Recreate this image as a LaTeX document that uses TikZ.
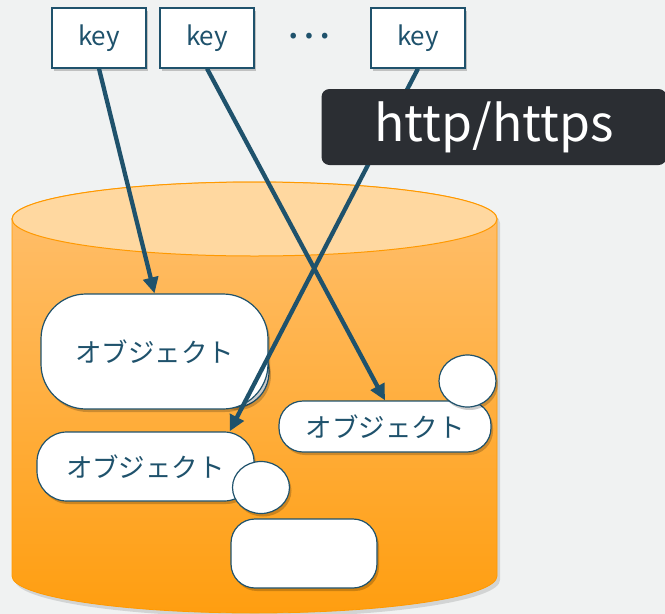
\documentclass[tikz,border=0pt]{standalone}
\usepackage{fontspec}
\setmainfont{Noto Sans CJK JP}
\usetikzlibrary{arrows.meta,shapes.geometric,shadows}

\definecolor{bgray}{RGB}{240,242,242}
\definecolor{linkblue}{RGB}{31,82,108}
\definecolor{capedge}{RGB}{255,153,0}
\definecolor{captop}{RGB}{255,216,160}
\definecolor{sidetop}{RGB}{255,192,112}
\definecolor{sidebot}{RGB}{255,158,16}
\definecolor{labeldark}{RGB}{43,46,51}

\tikzset{
  softshadow/.style={drop shadow={shadow xshift=2pt,shadow yshift=-3pt,opacity=.2,fill=black}},
  keybox/.style={draw=linkblue,line width=1.2pt,fill=white,minimum width=94pt,minimum height=60pt,
    inner sep=0pt,text=linkblue,font=\fontsize{26}{26}\selectfont,softshadow},
  objbox/.style={draw=linkblue,line width=1.2pt,fill=white,inner sep=0pt,text=linkblue,
    font=\fontsize{26.5}{26.5}\selectfont,softshadow},
  blob/.style={ellipse,draw=linkblue,line width=1.2pt,fill=white,minimum width=57pt,
    minimum height=52pt,inner sep=0pt,softshadow},
  link/.style={draw=linkblue,line width=4.3pt,-{Triangle[length=16pt,width=15pt]}}
}

\begin{document}
\begin{tikzpicture}[x=1pt,y=-1pt]

\fill[bgray] (0,0) rectangle (665,614);
\useasboundingbox (0,0) rectangle (665,614);

%Storage

\begin{scope}
\shade[top color=sidetop,bottom color=sidebot,draw=capedge,line width=.8pt,
  drop shadow={shadow xshift=3pt,shadow yshift=-4pt,opacity=.12,fill=black}]
  (12,219) -- (12,576) arc[start angle=180,end angle=0,x radius=242.5,y radius=37]
  -- (497,219) arc[start angle=0,end angle=-180,x radius=242.5,y radius=37] -- cycle;
\draw[fill=captop,draw=capedge,line width=1pt] (254.5,219) ellipse[x radius=242.5,y radius=37];
\end{scope}

%Objects

\node[blob,minimum width=66pt,minimum height=70pt] (b1) at (236,372) {};
\node[objbox,rounded corners=45pt,minimum width=227pt,minimum height=115pt] (o1) at (154.5,351.5) {オブジェクト};
\node[objbox,rounded corners=24pt,minimum width=212pt,minimum height=51pt] (o2) at (385,426.5) {オブジェクト};
\node[blob] (b2) at (467.5,381) {};
\node[objbox,rounded corners=30pt,minimum width=217pt,minimum height=69pt] (o3) at (145.5,466.5) {オブジェクト};
\node[blob] (b3) at (261,487.5) {};
\node[objbox,rounded corners=24pt,minimum width=146pt,minimum height=69pt] (o4) at (304,553.5) {};

%Keys

\node[keybox] (k1) at (99,38) {key};
\node[keybox] (k2) at (207,38) {key};
\node[text=linkblue,font=\fontsize{42}{42}\selectfont,inner sep=0pt] (dots) at (309,36) {⋯};
\node[keybox] (k3) at (418,38) {key};

\draw[link] (k1.south) -- (o1.north);
\draw[link] (k2.south) -- (o2.north);
\draw[link] (k3.south) -- ([xshift=-25pt]o3.north east);

%Protocol

\node[fill=labeldark,rounded corners=8pt,minimum width=345pt,minimum height=76pt,inner sep=0pt,
  text=white,font=\fontsize{50}{50}\selectfont] (proto) at (494,127) {http/https};

\end{tikzpicture}
\end{document}
